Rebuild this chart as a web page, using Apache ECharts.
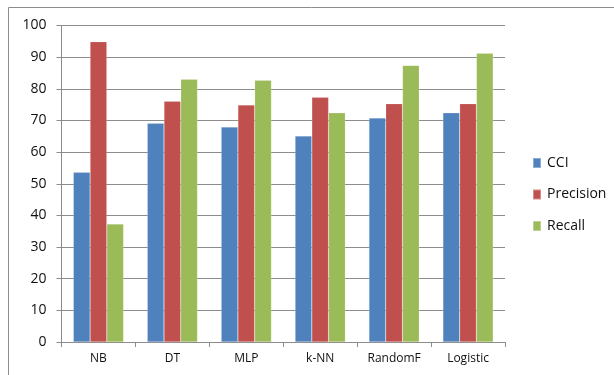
<!DOCTYPE html>
<html><head><meta charset="utf-8">
<script src="https://cdn.jsdelivr.net/npm/echarts@6/dist/echarts.min.js"></script>
<style>html,body{margin:0;padding:0;background:#fff}#c{width:614px;height:375px}</style>
</head><body><div id="c"></div>
<script>
const categories = ['NB','DT','MLP','k-NN','RandomF','Logistic'];
const cci = [53.6, 69.1, 67.9, 65.1, 70.8, 72.4];
const precision = [94.9, 76.1, 74.9, 77.3, 75.3, 75.3];
const recall = [37.3, 83.0, 82.7, 72.4, 87.4, 91.2];
const seriesNames = ['CCI','Precision','Recall'];
const yTicks = {min:0, max:100, interval:10};

const chart = echarts.init(document.getElementById('c'));
const font = 'Open Sans, Liberation Sans, Arial, sans-serif';
const colors = ['#4F81BD','#C0504D','#9BBB59'];
const vals = [cci, precision, recall];
chart.setOption({
  animation:false,
  color: colors,
  graphic:[{type:'rect', shape:{x:8.5,y:7.5,width:700,height:500}, style:{fill:'none', stroke:'#8c8c8c', lineWidth:1}, z:-1}],
  grid:{left:61.5, right:109, top:25.5, bottom:33},
  legend:{orient:'vertical', left:532, top:156, padding:0, itemWidth:8, itemHeight:10, itemGap:17.5, icon:'rect',
    textStyle:{fontFamily:font, fontSize:14, color:'#111', padding:[0,0,0,1]},
    data: seriesNames},
  xAxis:{type:'category', data:categories,
    axisLine:{lineStyle:{color:'#8c8c8c', width:1}},
    axisTick:{show:true, alignWithLabel:false, length:5, lineStyle:{color:'#8c8c8c'}},
    axisLabel:{fontFamily:font, fontSize:12, color:'#111', margin:11}},
  yAxis:{type:'value', min:yTicks.min, max:yTicks.max, interval:yTicks.interval,
    axisLine:{show:true, lineStyle:{color:'#8c8c8c'}},
    axisTick:{show:true, length:5, lineStyle:{color:'#8c8c8c'}},
    splitLine:{lineStyle:{color:'#8c8c8c', width:1}},
    axisLabel:{fontFamily:font, fontSize:14, color:'#111', margin:15}},
  series: seriesNames.map((n,i)=>({name:n, type:'bar', data:vals[i], barGap:'0%', barCategoryGap:'32%',
    itemStyle:{color:colors[i], borderColor:'rgba(255,255,255,0.35)', borderWidth:0.5}}))
});
</script></body></html>
